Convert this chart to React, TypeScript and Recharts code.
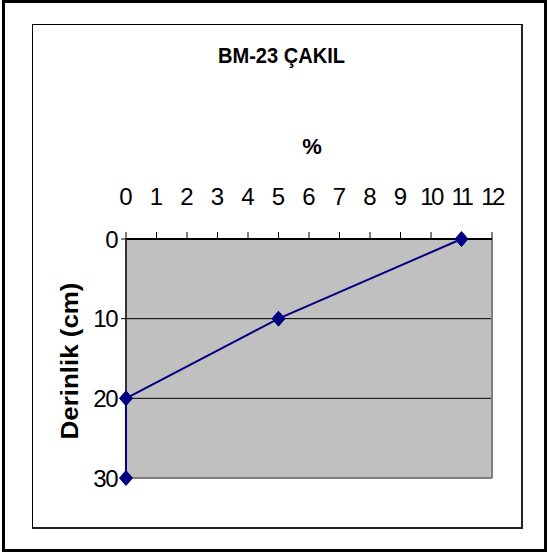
import React from "react";
import {
  LineChart,
  Line,
  XAxis,
  YAxis,
  CartesianGrid,
  ReferenceLine,
  Customized,
} from "recharts";

const depthCm = [0, 10, 20, 30];
const gravelPct = [11, 5, 0, 0];
const xTicks = [0, 1, 2, 3, 4, 5, 6, 7, 8, 9, 10, 11, 12];
const yTicks = [0, 10, 20, 30];
const chartTitle = "BM-23 ÇAKIL";
const xTitle = "%";
const yTitle = "Derinlik (cm)";

const data = depthCm.map((d, i) => ({ pct: gravelPct[i], depth: d }));

const FONT = "'Liberation Sans', Arial, sans-serif";

const Diamond = (props: any) => {
  const { cx, cy, index } = props;
  if (cx == null || cy == null) return <g key={`d${index}`} />;
  return (
    <path
      key={`d${index}`}
      d={`M${cx},${cy - 7.5} L${cx + 6.5},${cy} L${cx},${cy + 7.5} L${cx - 6.5},${cy} Z`}
      fill="#000080"
      stroke="#000080"
      strokeWidth={1}
    />
  );
};

const XTick = (props: any) => {
  const { x, y, payload } = props;
  return (
    <text
      x={x}
      y={y - 27}
      textAnchor="middle"
      fontFamily={FONT}
      fontSize={24}
      letterSpacing={payload.value >= 10 ? -2.5 : 0}
      fill="#000"
    >
      {payload.value}
    </text>
  );
};

const YTick = (props: any) => {
  const { x, y, payload } = props;
  return (
    <text
      x={x - 4}
      y={y + 8.5}
      textAnchor="end"
      fontFamily={FONT}
      fontSize={24}
      letterSpacing={-1.5}
      fill="#000"
    >
      {payload.value}
    </text>
  );
};

const Titles = () => (
  <g>
    <text
      x={281.5}
      y={63}
      textAnchor="middle"
      fontFamily={FONT}
      fontSize={22}
      fontWeight="bold"
      textLength={127}
      lengthAdjust="spacingAndGlyphs"
      fill="#000"
    >
      {chartTitle}
    </text>
    <text
      x={312}
      y={154}
      textAnchor="middle"
      fontFamily={FONT}
      fontSize={22}
      fontWeight="bold"
      fill="#000"
    >
      {xTitle}
    </text>
    <text
      x={78}
      y={361}
      textAnchor="middle"
      fontFamily={FONT}
      fontSize={23}
      fontWeight="bold"
      textLength={157}
      lengthAdjust="spacingAndGlyphs"
      transform="rotate(-90, 78, 361)"
      fill="#000"
    >
      {yTitle}
    </text>
  </g>
);

export default function App() {
  return (
    <div
      style={{
        position: "absolute",
        left: 0,
        top: 0,
        width: 548,
        height: 554,
        background: "#fff",
      }}
    >
      <div
        style={{
          position: "absolute",
          left: 2,
          top: 0,
          width: 545,
          height: 552,
          border: "3px solid #000",
          boxSizing: "border-box",
        }}
      />
      <div
        style={{
          position: "absolute",
          left: 32,
          top: 24,
          width: 491,
          height: 505,
          borderTop: "1.5px solid #000",
          borderLeft: "1.5px solid #000",
          borderRight: "2px solid #222",
          borderBottom: "2px solid #222",
          boxSizing: "border-box",
        }}
      />
      <div style={{ position: "absolute", left: 0, top: 0 }}>
        <LineChart
          width={548}
          height={554}
          data={data}
          margin={{ top: 209, right: 56, bottom: 76, left: 66 }}
        >
          <CartesianGrid
            vertical={false}
            horizontal={true}
            stroke="#000"
            strokeWidth={1}
            fill="#C0C0C0"
            fillOpacity={1}
          />
          <ReferenceLine x={12} stroke="#808080" strokeWidth={2} />
          <ReferenceLine y={30} stroke="#808080" strokeWidth={2} />
          <XAxis
            dataKey="pct"
            type="number"
            orientation="top"
            domain={[0, 12]}
            ticks={xTicks}
            interval={0}
            height={30}
            tickSize={7}
            tickMargin={0}
            axisLine={{ stroke: "#000", strokeWidth: 2 }}
            tickLine={{ stroke: "#000", strokeWidth: 1 }}
            tick={<XTick />}
          />
          <YAxis
            dataKey="depth"
            type="number"
            reversed
            domain={[0, 30]}
            ticks={yTicks}
            interval={0}
            width={60}
            tickSize={5}
            tickMargin={0}
            axisLine={{ stroke: "#333", strokeWidth: 2 }}
            tickLine={{ stroke: "#000", strokeWidth: 1 }}
            tick={<YTick />}
          />
          <Line
            type="linear"
            dataKey="depth"
            stroke="#000080"
            strokeWidth={2}
            dot={Diamond}
            activeDot={false}
            isAnimationActive={false}
            {...({ zIndex: 1000 } as any)}
          />
          <Customized component={Titles} />
        </LineChart>
      </div>
    </div>
  );
}
